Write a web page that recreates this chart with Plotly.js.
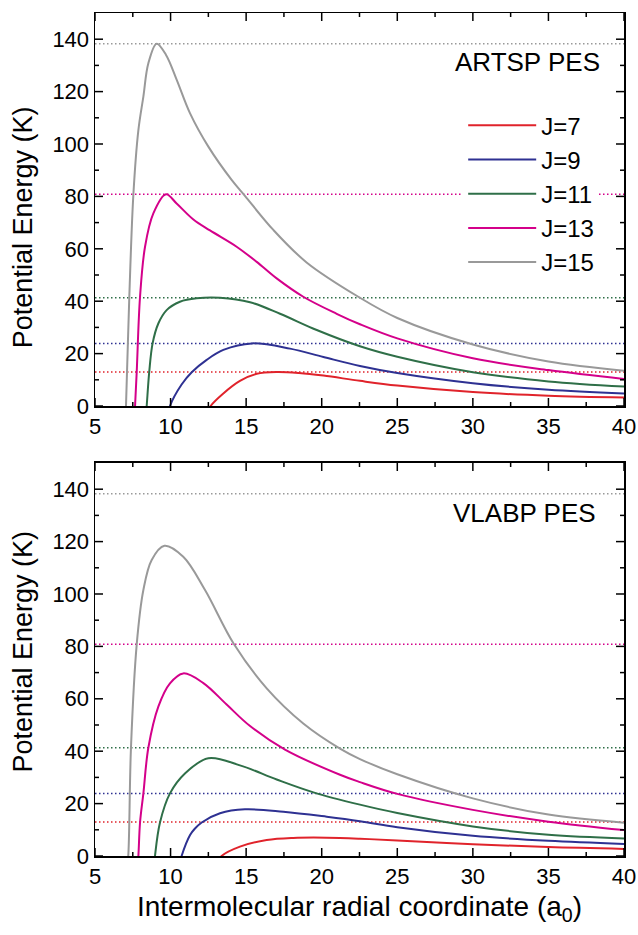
<!DOCTYPE html>
<html>
<head>
<meta charset="utf-8">
<script src="https://cdn.plot.ly/plotly-3.0.1.min.js"></script>
<style>html,body{margin:0;padding:0;background:#fff;}#chart{width:638px;height:935px;}</style>
</head>
<body>
<div id="chart"></div>
<script>
// ---------- DATA ----------
const seriesNames = ["J=7", "J=9", "J=11", "J=13", "J=15"];
const xRange = [5, 40];
const yRange = [0, 150];
const xTickVals = [5, 10, 15, 20, 25, 30, 35, 40];
const yTickVals = [0, 20, 40, 60, 80, 100, 120, 140];
// ARTSP barrier heights (K), also shown as dotted reference levels
const thresholds = [13.0, 23.9, 41.3, 80.8, 138.3];

// ARTSP PES (top panel): radial coordinate (a0) and potential (K)
const artsp_J7_r  = [12.5, 12.65, 13.49, 14.59, 15.7, 17.02, 18.5, 20.11, 22.53, 25, 30, 35, 40];
const artsp_J7_v  = [-2, 0, 4.8, 9.6, 12.3, 13.0, 12.6, 11.6, 9.6, 7.8, 5.3, 3.9, 3.2];
const artsp_J9_r  = [9.85, 9.96, 10.73, 11.4, 12.39, 13.49, 15.37, 17.9, 20.11, 22.53, 25, 30, 35, 40];
const artsp_J9_v  = [-3, 0, 8.2, 12.9, 17.6, 21.4, 23.9, 21.9, 18.7, 15.3, 12.6, 8.7, 6.2, 4.8];
const artsp_J11_r = [8.35, 8.42, 8.59, 8.81, 9.19, 9.74, 10.62, 11.73, 13.27, 15.26, 17.24, 19.67, 22.53, 25, 30, 35, 40];
const artsp_J11_v = [-5, 0, 13.1, 23.9, 31.5, 36.6, 39.8, 41.1, 41.3, 39.6, 35.2, 29.0, 22.8, 18.8, 12.9, 9.4, 7.4];
const artsp_J13_r = [7.6, 7.65, 7.76, 7.98, 8.31, 8.86, 9.7, 10.4, 11.51, 12.61, 14.37, 15.7, 17.02, 18.78, 20.99, 22.53, 25, 30, 35, 40];
const artsp_J13_v = [-5, 0, 13.1, 41.7, 60.8, 73.5, 80.8, 77.3, 71.2, 67.0, 60.8, 55.0, 48.7, 41.7, 35.2, 31.2, 25.8, 18.2, 13.7, 10.3];
const artsp_J15_r = [7.0, 7.05, 7.27, 7.54, 7.87, 8.2, 8.53, 9.08, 9.7, 10.4, 11.29, 12.5, 14.04, 14.92, 16.8, 19.0, 22.42, 25, 30, 35, 40];
const artsp_J15_v = [-5, 0, 41.7, 80.8, 105.3, 118.1, 130.8, 138.3, 134.0, 124.6, 111.7, 99.0, 86.3, 80.2, 67.2, 54.8, 41.7, 33.6, 23.5, 17.0, 13.5];

// VLABP PES (bottom panel)
const vlabp_J7_r  = [13.2, 13.38, 14.59, 16.36, 18.12, 20.33, 22.53, 25, 30, 35, 40];
const vlabp_J7_v  = [-2, 0, 3.6, 6.1, 6.9, 7.0, 6.6, 5.9, 4.5, 3.4, 2.7];
const vlabp_J9_r  = [10.6, 10.73, 11.29, 11.6, 12.06, 13.27, 14.92, 17.46, 20.33, 22.53, 25, 30, 35, 40];
const vlabp_J9_v  = [-3, 0, 8.0, 10.4, 12.8, 16.3, 17.8, 16.9, 15.0, 13.3, 11.0, 7.7, 5.8, 4.6];
const vlabp_J11_r = [8.9, 8.97, 9.3, 9.96, 10.95, 12.5, 14.59, 17.02, 19.45, 22.53, 25, 30, 35, 40];
const vlabp_J11_v = [-5, 0, 12.8, 23.9, 31.5, 37.3, 34.6, 29.2, 24.3, 19.6, 16.4, 11.3, 8.1, 6.7];
const vlabp_J13_r = [7.8, 7.87, 7.98, 8.2, 8.53, 9.19, 9.96, 10.84, 12.17, 13.71, 15.26, 17.57, 21.21, 22.53, 25, 30, 35, 40];
const vlabp_J13_v = [-5, 0, 12.8, 23.9, 41.3, 57.0, 65.9, 69.7, 66.0, 57.8, 49.6, 40.6, 31.0, 28.2, 23.7, 17.6, 13.1, 9.9];
const vlabp_J15_r = [7.1, 7.2, 7.38, 7.76, 8.2, 8.75, 9.59, 10.84, 12.28, 14.2, 16.36, 18.78, 21.21, 22.53, 25, 30, 35, 40];
const vlabp_J15_v = [-5, 0, 41.3, 80.8, 101.5, 113.0, 118.4, 114.2, 101.5, 80.8, 64.0, 50.6, 41.0, 37.0, 31.2, 22.0, 15.8, 12.7];

// ---------- STYLE ----------
const colors = ["#e0232b", "#2e3192", "#2f6f48", "#d4008a", "#999999"];
const FONT = "Liberation Sans, Arial, Helvetica, sans-serif";
const W = 638, H = 935, M = { l: 95, r: 14, t: 13, b: 79 };
const TOP_DOMAIN = [0.5338, 1];
const BOTTOM_DOMAIN = [0, 0.4662];
const MAJOR_PX = 8, MINOR_PX = 4;

const artsp = [[artsp_J7_r, artsp_J7_v], [artsp_J9_r, artsp_J9_v], [artsp_J11_r, artsp_J11_v], [artsp_J13_r, artsp_J13_v], [artsp_J15_r, artsp_J15_v]];
const vlabp = [[vlabp_J7_r, vlabp_J7_v], [vlabp_J9_r, vlabp_J9_v], [vlabp_J11_r, vlabp_J11_v], [vlabp_J13_r, vlabp_J13_v], [vlabp_J15_r, vlabp_J15_v]];

const traces = [];
[["x", "y"], ["x2", "y2"]].forEach(([xa, ya]) => {
  thresholds.forEach((t, i) => {
    traces.push({
      x: xRange, y: [t, t], xaxis: xa, yaxis: ya, mode: "lines", showlegend: false,
      hoverinfo: "skip",
      line: { color: colors[i], width: 1.5, dash: "1.5px,2.5px" }
    });
  });
});
artsp.forEach(([r, v], i) => {
  traces.push({
    x: r, y: v, xaxis: "x", yaxis: "y", mode: "lines", name: seriesNames[i],
    line: { color: colors[i], width: 2, shape: "spline", smoothing: 1 }
  });
});
vlabp.forEach(([r, v], i) => {
  traces.push({
    x: r, y: v, xaxis: "x2", yaxis: "y2", mode: "lines", name: seriesNames[i], showlegend: false,
    line: { color: colors[i], width: 2, shape: "spline", smoothing: 1 }
  });
});

function xAxis(extra) {
  return Object.assign({
    range: xRange, tickmode: "array", tickvals: xTickVals, ticks: "",
    mirror: "allticks", showline: true, linecolor: "#000", linewidth: 1.5,
    showgrid: false, zeroline: false, tickfont: { family: FONT, size: 22, color: "#000" }
  }, extra);
}
function yAxis(extra) {
  return Object.assign({
    range: yRange, tickmode: "array", tickvals: yTickVals, ticks: "",
    mirror: "allticks", showline: true, linecolor: "#000", linewidth: 1.5,
    showgrid: false, zeroline: false, tickfont: { family: FONT, size: 22, color: "#000" }
  }, extra);
}

// inward-pointing frame ticks (major + minor) on all four sides, in axis units
const plotW = W - M.l - M.r, plotH = H - M.t - M.b;
const shapes = [];
function addTicks(xa, ya, domain) {
  const panelH = plotH * (domain[1] - domain[0]);
  const xPer = (xRange[1] - xRange[0]) / plotW;   // x units per pixel
  const yPer = (yRange[1] - yRange[0]) / panelH;  // y units per pixel
  const tick = (x0, y0, x1, y1) => shapes.push({ type: "line", xref: xa, yref: ya, x0, y0, x1, y1,
    layer: "above", line: { color: "#000", width: 1.5 } });
  const xStep = xTickVals[1] - xTickVals[0];
  const yStep = yTickVals[1] - yTickVals[0];
  xTickVals.forEach((v, k) => {
    tick(v, yRange[0], v, yRange[0] + MAJOR_PX * yPer);
    tick(v, yRange[1], v, yRange[1] - MAJOR_PX * yPer);
    const m = v + xStep / 2;
    if (m < xRange[1]) {
      tick(m, yRange[0], m, yRange[0] + MINOR_PX * yPer);
      tick(m, yRange[1], m, yRange[1] - MINOR_PX * yPer);
    }
  });
  yTickVals.forEach((v) => {
    tick(xRange[0], v, xRange[0] + MAJOR_PX * xPer, v);
    tick(xRange[1], v, xRange[1] - MAJOR_PX * xPer, v);
    const m = v + yStep / 2;
    if (m < yRange[1]) {
      tick(xRange[0], m, xRange[0] + MINOR_PX * xPer, m);
      tick(xRange[1], m, xRange[1] - MINOR_PX * xPer, m);
    }
  });
}
addTicks("x", "y", TOP_DOMAIN);
addTicks("x2", "y2", BOTTOM_DOMAIN);

const titleFont = { family: FONT, size: 27, color: "#000" };

const layout = {
  width: W, height: H,
  margin: M,
  paper_bgcolor: "#ffffff", plot_bgcolor: "#ffffff",
  font: { family: FONT, color: "#000" },
  xaxis: xAxis({ domain: [0, 1], anchor: "y" }),
  yaxis: yAxis({ domain: TOP_DOMAIN, anchor: "x" }),
  xaxis2: xAxis({ domain: [0, 1], anchor: "y2",
    title: { text: "Intermolecular radial coordinate (a<sub>0</sub>)", font: { family: FONT, size: 28, color: "#000" }, standoff: 8 } }),
  yaxis2: yAxis({ domain: BOTTOM_DOMAIN, anchor: "x2" }),
  shapes: shapes,
  showlegend: true,
  legend: {
    x: 0.696, xanchor: "left", y: 0.893, yanchor: "top",
    bgcolor: "#fff", borderwidth: 0, itemwidth: 68,
    font: { family: FONT, size: 24, color: "#000" }, tracegroupgap: 0
  },
  annotations: [
    { text: "Potential Energy (K)", xref: "paper", yref: "paper", x: -0.136, y: 0.746, textangle: -90,
      xanchor: "center", yanchor: "middle", showarrow: false, font: titleFont },
    { text: "Potential Energy (K)", xref: "paper", yref: "paper", x: -0.136, y: 0.2426, textangle: -90,
      xanchor: "center", yanchor: "middle", showarrow: false, font: titleFont },
    { text: "ARTSP PES", xref: "x domain", yref: "y domain", x: 0.958, y: 0.8746,
      xanchor: "right", yanchor: "middle", showarrow: false, font: { family: FONT, size: 26, color: "#000" } },
    { text: "VLABP PES", xref: "x2 domain", yref: "y2 domain", x: 0.951, y: 0.872,
      xanchor: "right", yanchor: "middle", showarrow: false, font: { family: FONT, size: 26, color: "#000" } }
  ]
};

Plotly.newPlot("chart", traces, layout, { displayModeBar: false, staticPlot: true });
</script>
</body>
</html>
